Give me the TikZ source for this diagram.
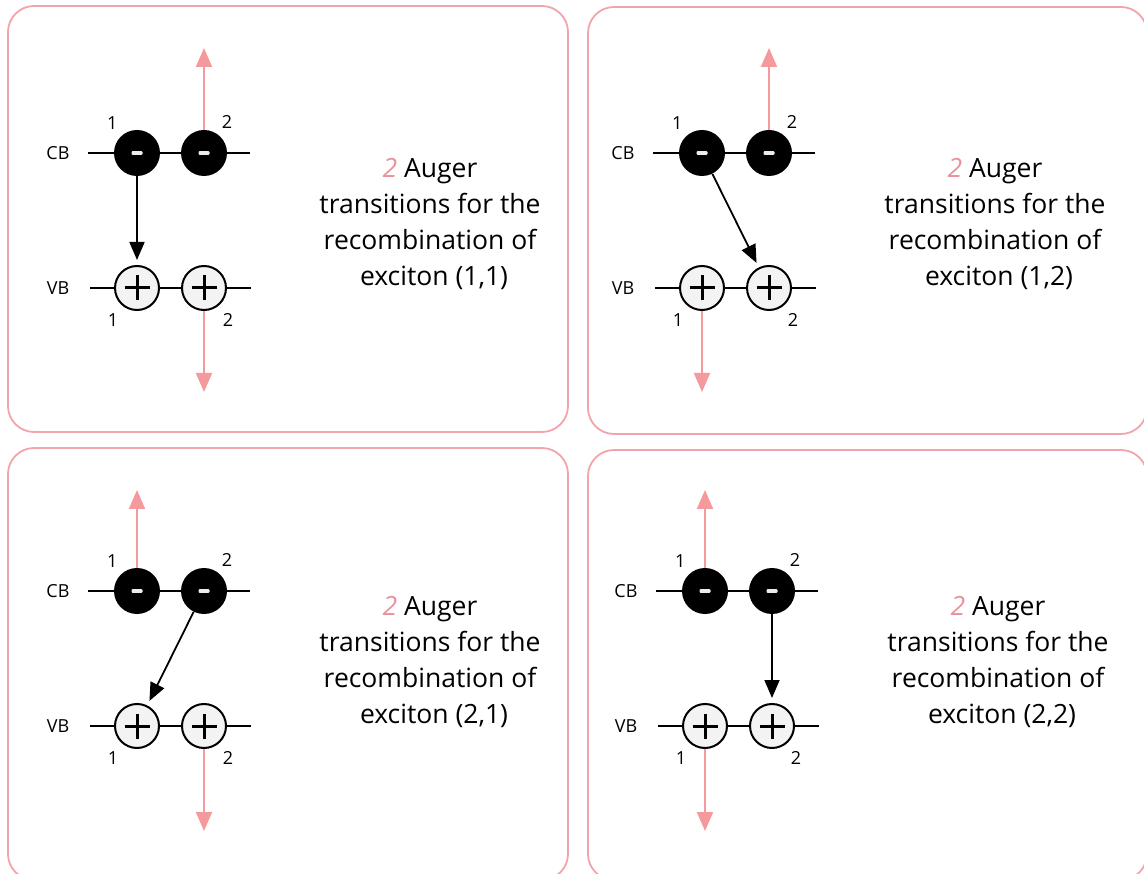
\documentclass[tikz,border=0pt]{standalone}
\usepackage{fontspec}
\setmainfont{Open Sans}
\usetikzlibrary{arrows.meta}

\definecolor{pinkline}{HTML}{F2A4A8}
\definecolor{pinkarrow}{HTML}{F59A9C}
\definecolor{pinktext}{HTML}{E8939B}
\definecolor{holefill}{HTML}{F3F3F3}

\tikzset{
  panel/.style={draw=pinkline, line width=1.8pt, rounded corners=26pt},
  band/.style={line width=1.7pt},
  electron/.style={circle, fill=black, minimum size=46pt, inner sep=0pt,
    path picture={\fill[white!85!gray, rounded corners=1pt]
      ([shift={(-5.5pt,-1.8pt)}]path picture bounding box.center) rectangle ++(11pt,3.6pt);}},
  hole/.style={circle, draw=black, line width=2pt, fill=holefill, minimum size=44pt, inner sep=0pt,
    path picture={\draw[line width=3pt] ([xshift=-12.5pt]path picture bounding box.center) -- ([xshift=12.5pt]path picture bounding box.center);
      \draw[line width=3pt] ([yshift=-12.5pt]path picture bounding box.center) -- ([yshift=12.5pt]path picture bounding box.center);}},
  num/.style={font=\fontsize{18}{20}\selectfont, inner sep=2pt},
  recomb/.style={line width=1.8pt, -{Triangle[length=18pt,width=15pt]}, shorten >=5pt},
  auger/.style={draw=pinkarrow, line width=2pt, -{Triangle[length=19pt,width=16pt]}},
  desc/.style={align=center, font=\fontsize{26.5}{36}\selectfont},
}

\begin{document}
\begin{tikzpicture}[x=1pt, y=-1pt]
  \useasboundingbox (0,0) rectangle (1144,874);

  % frames
  \draw[panel] (8,6) rectangle (568,432);
  \draw[panel] (588,7) rectangle (1147,434);
  \draw[panel] (8,448) rectangle (568,880);
  \draw[panel] (588,450) rectangle (1147,880);

  % exciton (1,1)
  \begin{scope}
    \draw[band] (88,153) -- (250,153);
    \draw[band] (90,288) -- (251,288);
    \node[num] (cba) at (58,153) {CB};
    \node[num] (vba) at (58,288) {VB};
    \node[electron, label={[num, label distance=4pt]130:1}] (e1a) at (137,153) {};
    \node[electron, label={[num, label distance=4pt]55:2}] (e2a) at (204,153) {};
    \node[hole, label={[num, label distance=6pt]235:1}] (h1a) at (137,288) {};
    \node[hole, label={[num, label distance=6pt]-55:2}] (h2a) at (204,288) {};
    \coordinate (upa) at (204,48);
    \coordinate (dna) at (204,392);
    \draw[auger] (e2a.north) -- (upa);
    \draw[auger] (h2a.south) -- (dna);
    \draw[recomb] (e1a) -- (h1a);
    \node[desc] (txta) at (430,224) {\textcolor{pinktext}{\textit{2}} Auger\\transitions for the\\recombination of\\\hspace*{8pt}exciton (1,1)};
  \end{scope}

  % exciton (1,2)
  \begin{scope}[shift={(565,0)}]
    \draw[band] (88,153) -- (250,153);
    \draw[band] (90,288) -- (251,288);
    \node[num] (cbb) at (58,153) {CB};
    \node[num] (vbb) at (58,288) {VB};
    \node[electron, label={[num, label distance=4pt]130:1}] (e1b) at (137,153) {};
    \node[electron, label={[num, label distance=4pt]55:2}] (e2b) at (204,153) {};
    \node[hole, label={[num, label distance=6pt]235:1}] (h1b) at (137,288) {};
    \node[hole, label={[num, label distance=6pt]-55:2}] (h2b) at (204,288) {};
    \coordinate (upb) at (204,48);
    \coordinate (dnb) at (137,392);
    \draw[auger] (e2b.north) -- (upb);
    \draw[auger] (h1b.south) -- (dnb);
    \draw[recomb] (e1b) -- (h2b);
    \node[desc] (txtb) at (430,224) {\textcolor{pinktext}{\textit{2}} Auger\\transitions for the\\recombination of\\\hspace*{8pt}exciton (1,2)};
  \end{scope}

  % exciton (2,1)
  \begin{scope}[shift={(0,438)}]
    \draw[band] (88,153) -- (250,153);
    \draw[band] (90,288) -- (251,288);
    \node[num] (cbc) at (58,153) {CB};
    \node[num] (vbc) at (58,288) {VB};
    \node[electron, label={[num, label distance=4pt]130:1}] (e1c) at (137,153) {};
    \node[electron, label={[num, label distance=4pt]55:2}] (e2c) at (204,153) {};
    \node[hole, label={[num, label distance=6pt]235:1}] (h1c) at (137,288) {};
    \node[hole, label={[num, label distance=6pt]-55:2}] (h2c) at (204,288) {};
    \coordinate (upc) at (137,52);
    \coordinate (dnc) at (204,393);
    \draw[auger] (e1c.north) -- (upc);
    \draw[auger] (h2c.south) -- (dnc);
    \draw[recomb] (e2c) -- (h1c);
    \node[desc] (txtc) at (430,224) {\textcolor{pinktext}{\textit{2}} Auger\\transitions for the\\recombination of\\\hspace*{8pt}exciton (2,1)};
  \end{scope}

  % exciton (2,2)
  \begin{scope}[shift={(568,438)}]
    \draw[band] (88,153) -- (250,153);
    \draw[band] (90,288) -- (251,288);
    \node[num] (cbd) at (58,153) {CB};
    \node[num] (vbd) at (58,288) {VB};
    \node[electron, label={[num, label distance=4pt]130:1}] (e1d) at (137,153) {};
    \node[electron, label={[num, label distance=4pt]55:2}] (e2d) at (204,153) {};
    \node[hole, label={[num, label distance=6pt]235:1}] (h1d) at (137,288) {};
    \node[hole, label={[num, label distance=6pt]-55:2}] (h2d) at (204,288) {};
    \coordinate (upd) at (137,52);
    \coordinate (dnd) at (137,393);
    \draw[auger] (e1d.north) -- (upd);
    \draw[auger] (h1d.south) -- (dnd);
    \draw[recomb] (e2d) -- (h2d);
    \node[desc] (txtd) at (430,224) {\textcolor{pinktext}{\textit{2}} Auger\\transitions for the\\recombination of\\\hspace*{8pt}exciton (2,2)};
  \end{scope}
\end{tikzpicture}
\end{document}
